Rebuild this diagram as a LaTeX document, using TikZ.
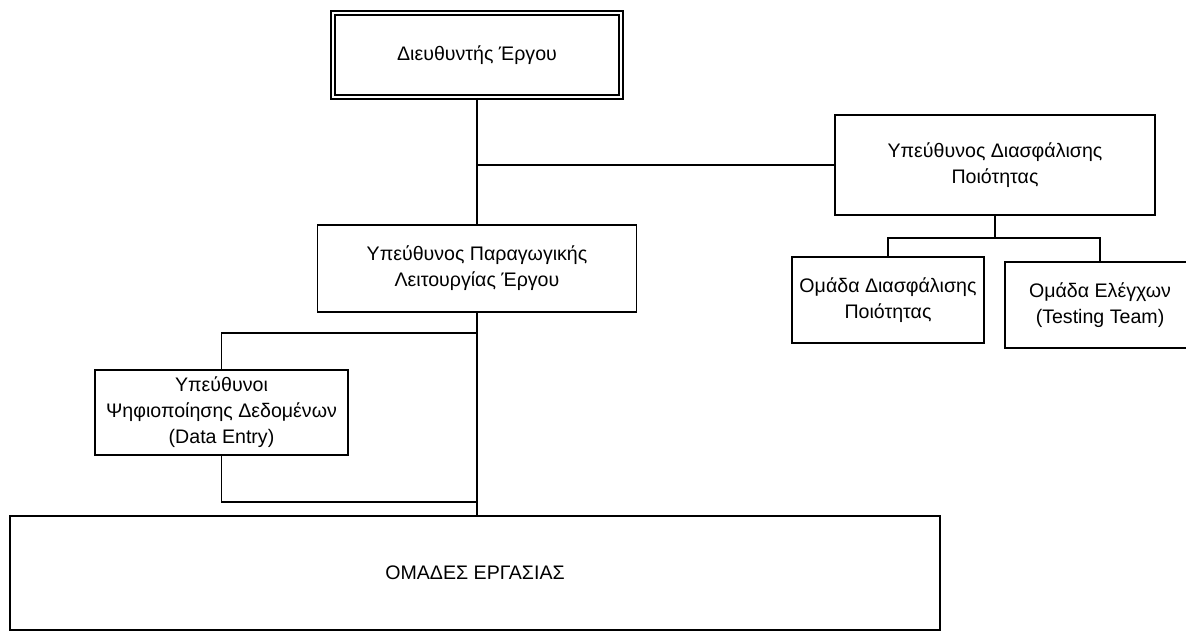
\documentclass[tikz,border=0pt]{standalone}
\usepackage{fontspec}
\setmainfont{Liberation Sans}
\begin{document}
\begin{tikzpicture}[x=0.5pt,y=-0.5pt,line width=0.8pt,
	box/.style={draw,align=center,inner sep=0pt,font=\fontsize{9.8}{13}\selectfont}]
	\useasboundingbox (0,0) rectangle (1186,636);
	\node[box,double,double distance=1.2pt,minimum width=144pt,minimum height=42pt] (dir) at (477,55) {Διευθυντής Έργου};
	\node[box,minimum width=160pt,minimum height=50pt] (qa) at (995,165) {Υπεύθυνος Διασφάλισης\\Ποιότητας};
	\node[box,minimum width=159.5pt,minimum height=43.5pt] (prod) at (477,268.5) {Υπεύθυνος Παραγωγικής\\Λειτουργίας Έργου};
	\node[box,minimum width=96pt,minimum height=43pt] (qateam) at (888,300) {Ομάδα Διασφάλισης\\Ποιότητας};
	\node[box,minimum width=95pt,minimum height=43pt] (test) at (1100,305) {Ομάδα Ελέγχων\\(Testing Team)};
	\node[box,minimum width=126.5pt,minimum height=42.5pt] (data) at (221.5,412.5) {Υπεύθυνοι\\Ψηφιοποίησης Δεδομένων\\(Data Entry)};
	\node[box,minimum width=465pt,minimum height=57pt] (omades) at (475,573) {ΟΜΑΔΕΣ ΕΡΓΑΣΙΑΣ};
	\coordinate (j1) at (477,165);
	\coordinate (j2) at (995,238);
	\coordinate (b1) at (477,333);
	\coordinate (b2) at (477,502);
	\draw (dir.south) -- (prod.north);
	\draw (j1) -- (qa.west);
	\draw (qa.south) -- (j2);
	\draw (qateam.north) |- (j2) -| (test.north);
	\draw (prod.south) -- (prod.south |- omades.north);
	\draw (b1) -| (data.north);
	\draw (data.south) |- (b2);
\end{tikzpicture}
\end{document}
